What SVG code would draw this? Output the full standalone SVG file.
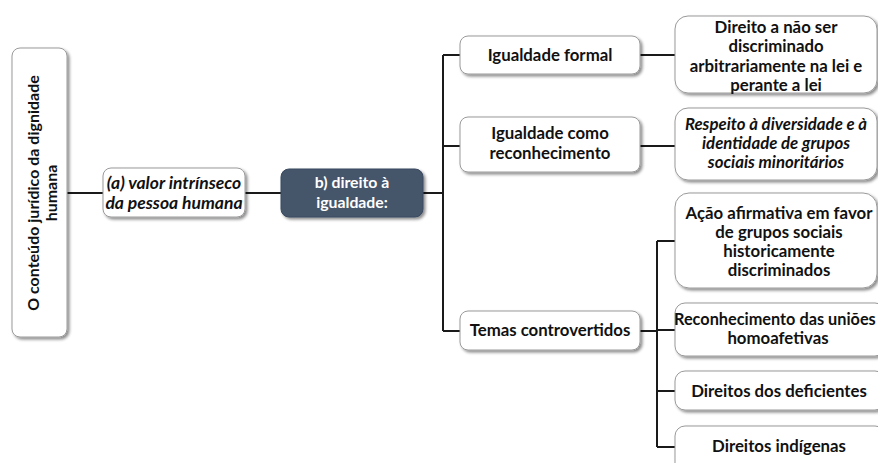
<svg xmlns="http://www.w3.org/2000/svg" width="878" height="463" viewBox="0 0 878 463">
<defs>
<filter id="sh" x="-20%" y="-20%" width="140%" height="140%">
<feDropShadow dx="2" dy="2" stdDeviation="1.8" flood-color="#000" flood-opacity="0.45"/>
</filter>
<style>
.box{fill:#fff;stroke:#9a9a9a;stroke-width:1;filter:url(#sh)}
.dark{fill:#44546a;stroke:#3a4a60;stroke-width:1;filter:url(#sh)}
.t{font-family:Lato,"Liberation Sans",sans-serif;font-weight:bold;font-size:16.8px;fill:#111;text-anchor:middle}
.i{font-style:italic}
.w{fill:#fff;font-size:15.8px}
.r{font-size:16px}
.a{font-size:17.5px}
.u{font-size:16.3px;text-anchor:start}
.c{fill:none;stroke:#1a1a1a;stroke-width:2}
</style>
</defs>
<rect width="878" height="463" fill="#fff"/>
<g id="connectors">
<path class="c" d="M67 193H103M245 193H281M423 193H443M443 55V331M443 55H460M443 146H460M443 331H460M640 55H675M640 146H675M640 331H657M657 241V447M657 241H675M657 330H675M657 391H675M657 447H675"/>
</g>
<g id="root">
<rect class="box" x="12" y="48" width="55" height="289" rx="8"/>
<text class="t r" transform="translate(39,193) rotate(-90)">O conteúdo jurídico da dignidade</text>
<text class="t r" transform="translate(57,193) rotate(-90)">humana</text>
</g>
<g id="a">
<rect class="box" x="103" y="168" width="142" height="49" rx="8"/>
<text class="t i a" x="174" y="189">(a) valor intrínseco</text>
<text class="t i a" x="174" y="209">da pessoa humana</text>
</g>
<g id="b">
<rect class="dark" x="281" y="169" width="142" height="48" rx="8"/>
<text class="t w" x="352" y="188">b) direito à</text>
<text class="t w" x="352" y="208">igualdade:</text>
</g>
<g id="formal">
<rect class="box" x="460" y="36" width="180" height="38" rx="8"/>
<text class="t" x="550" y="61">Igualdade formal</text>
</g>
<g id="reconhecimento">
<rect class="box" x="460" y="117" width="180" height="55" rx="8"/>
<text class="t" x="550" y="139">Igualdade como</text>
<text class="t" x="550" y="159">reconhecimento</text>
</g>
<g id="temas">
<rect class="box" x="460" y="311" width="180" height="39" rx="8"/>
<text class="t" x="550" y="336">Temas controvertidos</text>
</g>
<g id="direito">
<rect class="box" x="675" y="16" width="202" height="77" rx="13"/>
<text class="t" x="776" y="33">Direito a não ser</text>
<text class="t" x="776" y="52">discriminado</text>
<text class="t" x="776" y="72">arbitrariamente na lei e</text>
<text class="t" x="776" y="91">perante a lei</text>
</g>
<g id="respeito">
<rect class="box" x="675" y="108" width="202" height="72" rx="13"/>
<text class="t i" x="776" y="130">Respeito à diversidade e à</text>
<text class="t i" x="776" y="149">identidade de grupos</text>
<text class="t i" x="776" y="168">sociais minoritários</text>
</g>
<g id="acao">
<rect class="box" x="675" y="193" width="202" height="95" rx="14"/>
<text class="t" x="779" y="219">Ação afirmativa em favor</text>
<text class="t" x="779" y="238">de grupos sociais</text>
<text class="t" x="779" y="257">historicamente</text>
<text class="t" x="779" y="276">discriminados</text>
</g>
<g id="unioes">
<rect class="box" x="675" y="303" width="210" height="53" rx="10"/>
<text class="t u" x="674" y="325">Reconhecimento das uniões</text>
<text class="t" x="778" y="344">homoafetivas</text>
</g>
<g id="deficientes">
<rect class="box" x="675" y="371" width="210" height="39" rx="10"/>
<text class="t" x="779" y="397">Direitos dos deficientes</text>
</g>
<g id="indigenas">
<rect class="box" x="675" y="426" width="210" height="50" rx="10"/>
<text class="t" x="779" y="452">Direitos indígenas</text>
</g>
</svg>
